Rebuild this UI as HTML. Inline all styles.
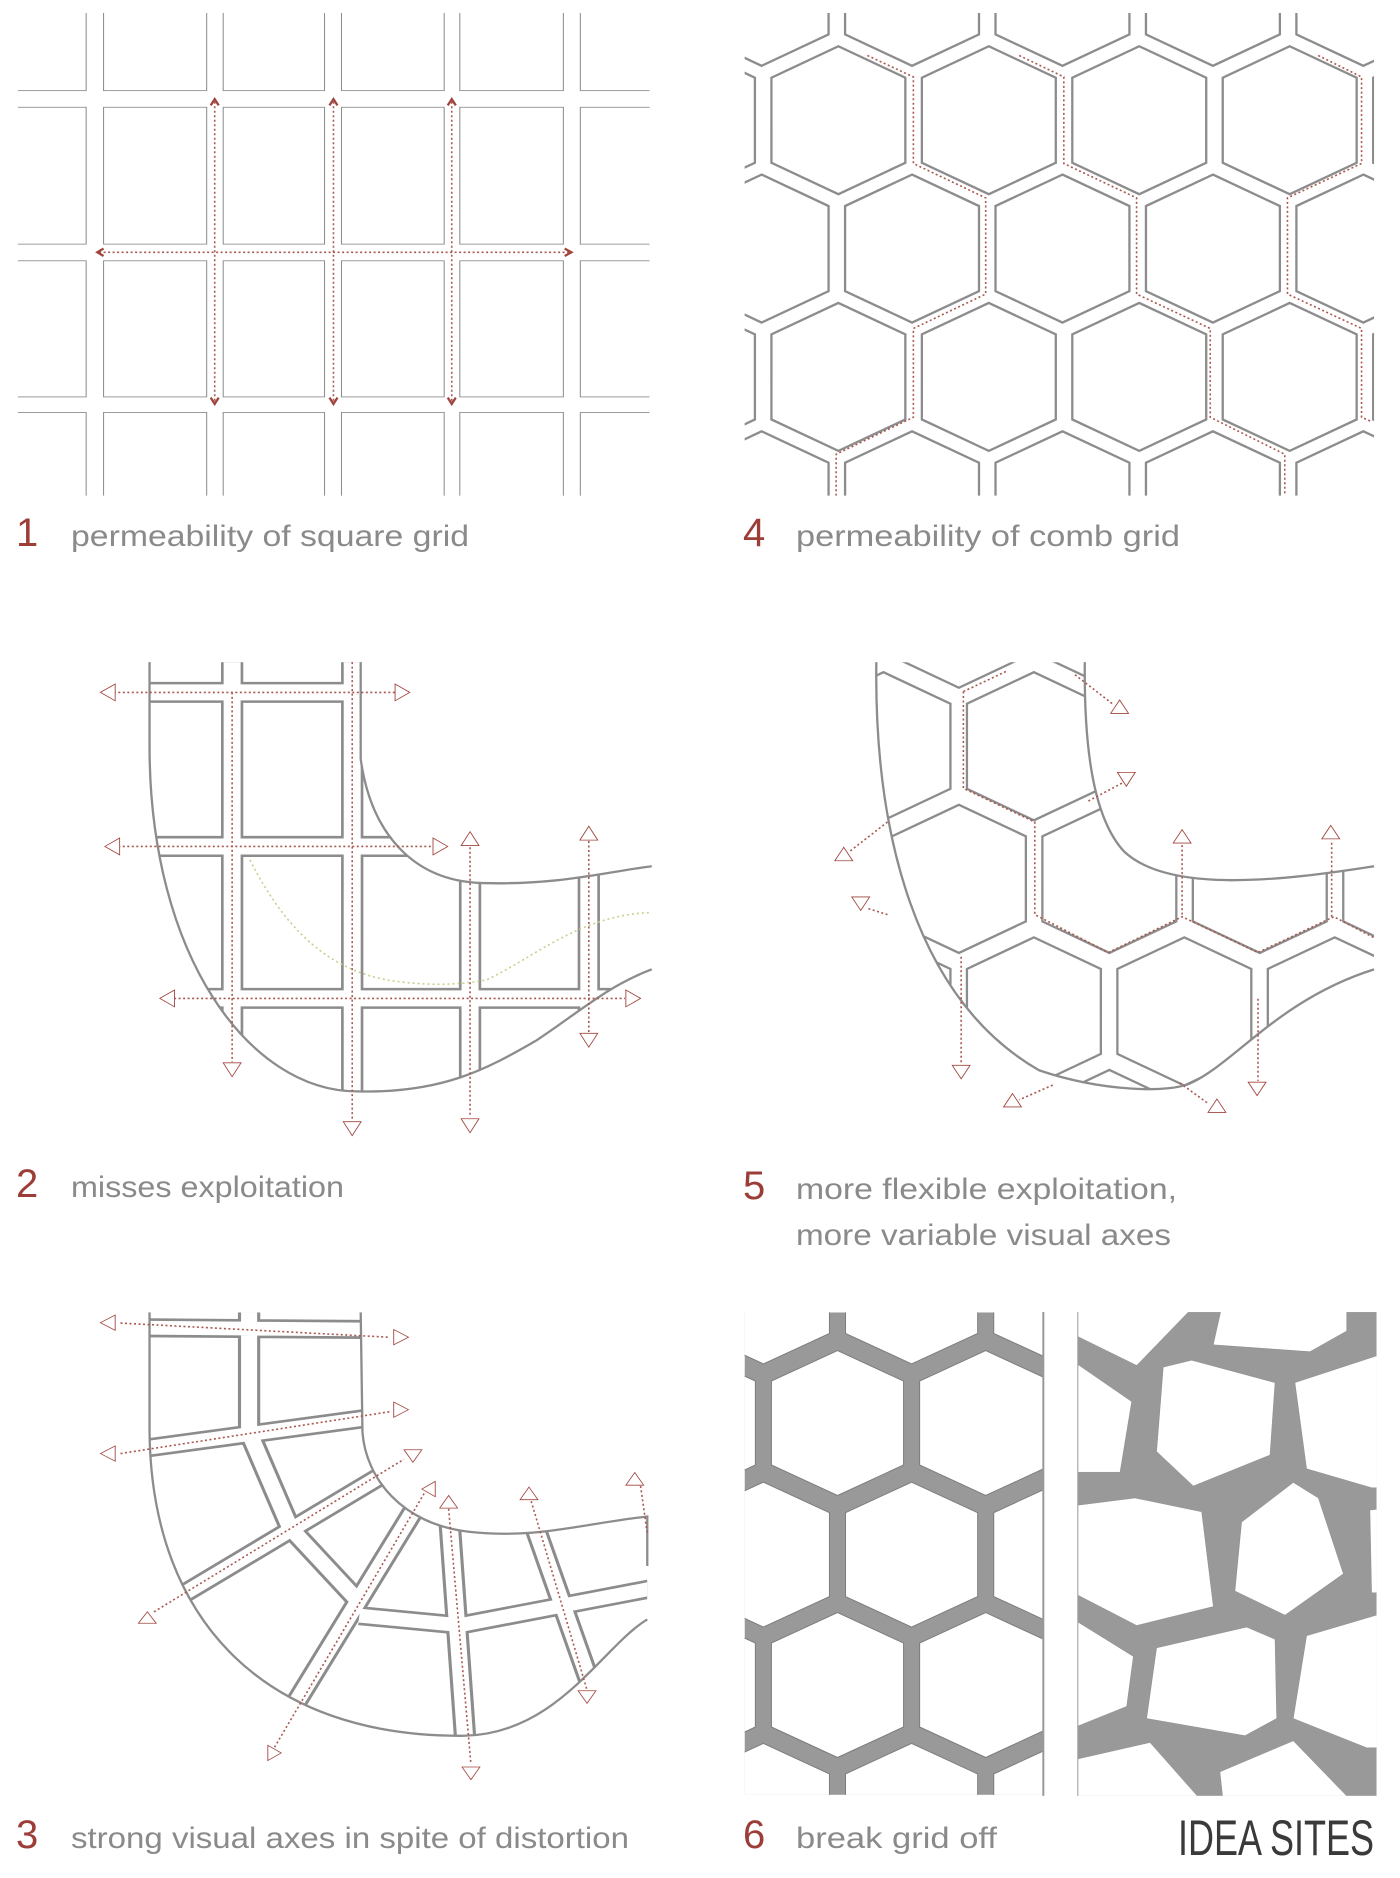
<!DOCTYPE html>
<html><head><meta charset="utf-8"><style>
html,body{margin:0;padding:0;background:#fff;}
svg{display:block;}
.g{fill:none;stroke:#8c8c8c;stroke-width:2.3;vector-effect:non-scaling-stroke;}
.r{fill:none;stroke:#a8584f;stroke-width:1.6;stroke-dasharray:2 2.5;vector-effect:non-scaling-stroke;}
.t{fill:#fff;stroke:#a0453e;stroke-width:2;vector-effect:non-scaling-stroke;}
.gr{fill:none;stroke:#c9cf8c;stroke-width:1.6;stroke-dasharray:2 3;vector-effect:non-scaling-stroke;}
.lab{font-family:"Liberation Sans",sans-serif;font-size:30px;fill:#8a8a8a;}
.num{font-family:"Liberation Sans",sans-serif;font-size:40px;fill:#9c3d38;}
</style></head><body>
<svg width="1400" height="1878" viewBox="0 0 1400 1878" xmlns="http://www.w3.org/2000/svg">
<defs>
<polygon id="hx" points="0,-200 150,-115 150,115 0,200 -150,115 -150,-115" class="g"/>
<polygon id="hx5" points="0,-176 150,-101 150,101 0,176 -150,101 -150,-101" class="g"/>
<polygon id="hx6" points="0,-190 148,-110 148,110 0,190 -148,110 -148,-110" fill="#fff" stroke="#7d7d7d" stroke-width="1" vector-effect="non-scaling-stroke"/>
<clipPath id="c1" clipPathUnits="userSpaceOnUse"><rect x="40" y="35" width="1415" height="1305"/></clipPath>
<clipPath id="c4" clipPathUnits="userSpaceOnUse"><rect x="100" y="35" width="1410" height="1305"/></clipPath>
<clipPath id="c2" clipPathUnits="userSpaceOnUse"><path d="M335,100 L808,100 L808,330 C830,500 920,620 1080,625 C1250,630 1350,600 1460,585 L1460,830 C1360,870 1300,930 1200,1000 C1100,1060 1000,1125 800,1120 C560,1120 335,800 335,300 Z"/></clipPath>
<clipPath id="c5" clipPathUnits="userSpaceOnUse"><path d="M395,100 L862,100 C860,300 880,470 950,550 C1050,650 1300,620 1510,585 L1510,830 C1300,900 1200,1050 1100,1100 C1050,1125 900,1120 760,1070 C480,900 390,500 395,100 Z"/></clipPath>
<clipPath id="c3" clipPathUnits="userSpaceOnUse"><path d="M335,85 L808,85 L812,400 C820,520 900,640 1050,660 C1200,680 1300,640 1450,620 L1450,890 C1350,960 1250,1190 1040,1195 C600,1200 340,900 335,400 Z"/></clipPath>
<clipPath id="c6" clipPathUnits="userSpaceOnUse"><rect x="100" y="85" width="670" height="1265"/></clipPath>
<clipPath id="c7" clipPathUnits="userSpaceOnUse"><rect x="235" y="35" width="895" height="1405"/></clipPath>
</defs>

<!-- Panel 1 -->
<g transform="translate(0,0) scale(0.4464,0.3699)">
<g clip-path="url(#c1)">
<g class="g">
<rect x="-100" y="-100" width="293" height="345"/><rect x="232" y="-100" width="231" height="345"/><rect x="500" y="-100" width="227" height="345"/><rect x="765" y="-100" width="230" height="345"/><rect x="1030" y="-100" width="232" height="345"/><rect x="1300" y="-100" width="400" height="345"/>
<rect x="-100" y="290" width="293" height="370"/><rect x="232" y="290" width="231" height="370"/><rect x="500" y="290" width="227" height="370"/><rect x="765" y="290" width="230" height="370"/><rect x="1030" y="290" width="232" height="370"/><rect x="1300" y="290" width="400" height="370"/>
<rect x="-100" y="705" width="293" height="368"/><rect x="232" y="705" width="231" height="368"/><rect x="500" y="705" width="227" height="368"/><rect x="765" y="705" width="230" height="368"/><rect x="1030" y="705" width="232" height="368"/><rect x="1300" y="705" width="400" height="368"/>
<rect x="-100" y="1115" width="293" height="500"/><rect x="232" y="1115" width="231" height="500"/><rect x="500" y="1115" width="227" height="500"/><rect x="765" y="1115" width="230" height="500"/><rect x="1030" y="1115" width="232" height="500"/><rect x="1300" y="1115" width="400" height="500"/>
</g></g>
<path class="r" d="M481,275 L481,1085 M747,275 L747,1085 M1012,275 L1012,1085 M222,682 L1275,682"/>
<path class="g" style="stroke:#a0453e" d="M472,285 L481,268 L490,285 M738,285 L747,268 L756,285 M1003,285 L1012,268 L1021,285 M472,1075 L481,1092 L490,1075 M738,1075 L747,1092 L756,1075 M1003,1075 L1012,1092 L1021,1075 M232,672 L218,682 L232,692 M1265,672 L1280,682 L1265,692"/>
</g>
<text class="num" x="16" y="546">1</text>
<text class="lab" x="71" y="546" textLength="398" lengthAdjust="spacingAndGlyphs">permeability of square grid</text>

<!-- Panel 4 -->
<g transform="translate(700,0) scale(0.4464,0.3699)">
<g clip-path="url(#c4)">
<use href="#hx" x="138" y="-22"/><use href="#hx" x="475" y="-22"/><use href="#hx" x="812" y="-22"/><use href="#hx" x="1149" y="-22"/><use href="#hx" x="1486" y="-22"/>
<use href="#hx" x="-27" y="325"/><use href="#hx" x="310" y="325"/><use href="#hx" x="647" y="325"/><use href="#hx" x="984" y="325"/><use href="#hx" x="1321" y="325"/><use href="#hx" x="1658" y="325"/>
<use href="#hx" x="138" y="672"/><use href="#hx" x="475" y="672"/><use href="#hx" x="812" y="672"/><use href="#hx" x="1149" y="672"/><use href="#hx" x="1486" y="672"/>
<use href="#hx" x="-27" y="1019"/><use href="#hx" x="310" y="1019"/><use href="#hx" x="647" y="1019"/><use href="#hx" x="984" y="1019"/><use href="#hx" x="1321" y="1019"/><use href="#hx" x="1658" y="1019"/>
<use href="#hx" x="138" y="1366"/><use href="#hx" x="475" y="1366"/><use href="#hx" x="812" y="1366"/><use href="#hx" x="1149" y="1366"/><use href="#hx" x="1486" y="1366"/>
</g>
<path class="r" d="M375,150 L478,208 L478,442 L640,535 L640,795 L478,888 L478,1128 L305,1228 L305,1340"/>
<path class="r" d="M715,150 L815,208 L815,442 L978,535 L978,795 L1143,888 L1143,1128 L1310,1228 L1310,1340"/>
<path class="r" d="M1385,150 L1482,208 L1482,442 L1316,535 L1316,795 L1482,888 L1482,1128 L1505,1140"/>
</g>
<text class="num" x="743" y="546">4</text>
<text class="lab" x="796" y="546" textLength="384" lengthAdjust="spacingAndGlyphs">permeability of comb grid</text>

<!-- Panel 2 -->
<g transform="translate(0,620) scale(0.4464,0.4209)">
<g clip-path="url(#c2)">
<path d="M520,0 V1300 M789,0 V1300 M1053,0 V1300 M1319,0 V1300 M200,172 H1600 M200,538 H1600 M200,899 H1600" stroke="#8c8c8c" stroke-width="50" fill="none"/>
<path d="M520,0 V1300 M789,0 V1300 M1053,0 V1300 M1319,0 V1300 M200,172 H1600 M200,538 H1600 M200,899 H1600" stroke="#fff" stroke-width="38" fill="none"/>
</g>
<path class="g" d="M335,100 L335,300 C335,800 560,1120 800,1120 C1000,1125 1100,1060 1200,1000 C1300,930 1360,870 1460,830"/>
<path class="g" d="M808,100 L808,330 C830,500 920,620 1080,625 C1250,630 1350,600 1460,585"/>
<path class="gr" d="M560,570 C650,760 760,845 900,860 C980,870 1040,865 1090,855 C1200,800 1300,700 1460,695"/>
<path class="r" d="M255,172 H885 M265,538 H970 M390,899 H1400 M520,172 V1050 M789,100 V1190 M1053,540 V1180 M1319,525 V980"/>
<g class="t">
<polygon points="225,172 258,152 258,192"/><polygon points="918,172 885,152 885,192"/>
<polygon points="235,538 268,518 268,558"/><polygon points="1003,538 970,518 970,558"/>
<polygon points="358,899 391,879 391,919"/><polygon points="1435,899 1402,879 1402,919"/>
<polygon points="520,1085 500,1052 540,1052"/><polygon points="789,1225 769,1192 809,1192"/>
<polygon points="1053,1218 1033,1185 1073,1185"/><polygon points="1319,1015 1299,982 1339,982"/>
<polygon points="1053,503 1033,536 1073,536"/><polygon points="1319,490 1299,523 1339,523"/>
</g>
</g>
<text class="num" x="16" y="1197">2</text>
<text class="lab" x="71" y="1197" textLength="273" lengthAdjust="spacingAndGlyphs">misses exploitation</text>

<!-- Panel 5 -->
<g transform="translate(700,620) scale(0.4464,0.4209)">
<g clip-path="url(#c5)">
<use href="#hx5" x="580" y="-15"/><use href="#hx5" x="917" y="-15"/>
<use href="#hx5" x="411" y="300"/><use href="#hx5" x="748" y="300"/><use href="#hx5" x="1085" y="300"/><use href="#hx5" x="1422" y="300"/>
<use href="#hx5" x="243" y="615"/><use href="#hx5" x="580" y="615"/><use href="#hx5" x="917" y="615"/><use href="#hx5" x="1254" y="615"/><use href="#hx5" x="1591" y="615"/>
<use href="#hx5" x="411" y="930"/><use href="#hx5" x="748" y="930"/><use href="#hx5" x="1085" y="930"/><use href="#hx5" x="1422" y="930"/>
<use href="#hx5" x="580" y="1245"/><use href="#hx5" x="917" y="1245"/><use href="#hx5" x="1254" y="1245"/>
</g>
<path class="g" d="M395,100 C390,500 480,900 760,1070 C900,1120 1050,1125 1100,1100 C1200,1050 1300,900 1510,830"/>
<path class="g" d="M862,100 C860,300 880,470 950,550 C1050,650 1300,620 1510,585"/>
<path class="r" d="M590,170 L690,120 M590,170 L590,400 L750,480 L750,700 L915,790 L1080,705 L1250,790 L1420,705 L1510,755"/>
<path class="r" d="M840,130 L925,200 M870,430 L950,385 M420,480 L335,550 M420,700 L375,685 M1080,700 L1080,535 M1415,705 L1415,525 M585,800 L585,1055 M1250,900 L1250,1095 M790,1105 L715,1140 M1075,1100 L1140,1150"/>
<g class="t">
<polygon points="940,190 920,222 960,222"/><polygon points="955,395 935,362 975,362"/>
<polygon points="322,540 302,572 342,572"/><polygon points="360,690 340,658 380,658"/>
<polygon points="1080,498 1060,530 1100,530"/><polygon points="1413,488 1393,520 1433,520"/>
<polygon points="585,1090 565,1058 605,1058"/><polygon points="1248,1130 1228,1098 1268,1098"/>
<polygon points="700,1125 680,1157 720,1157"/><polygon points="1158,1138 1138,1170 1178,1170"/>
</g>
</g>
<text class="num" x="743" y="1199">5</text>
<text class="lab" x="796" y="1199" textLength="381" lengthAdjust="spacingAndGlyphs">more flexible exploitation,</text>
<text class="lab" x="796" y="1245" textLength="375" lengthAdjust="spacingAndGlyphs">more variable visual axes</text>

<!-- Panel 3 -->
<g transform="translate(0,1280) scale(0.4464,0.3814)">
<g clip-path="url(#c3)">
<path d="M300,125 L850,130 M300,445 L850,358 M380,845 L880,495 M620,1190 L950,560 M1005,600 L1045,1250 M1190,620 L1320,1050 M558,60 L558,400 L650,650 L805,845 M805,880 L1030,905 L1500,800" stroke="#8c8c8c" stroke-width="50" fill="none" stroke-linejoin="round"/>
<path d="M300,125 L850,130 M300,445 L850,358 M380,845 L880,495 M620,1190 L950,560 M1005,600 L1045,1250 M1190,620 L1320,1050 M558,60 L558,400 L650,650 L805,845 M805,880 L1030,905 L1500,800" stroke="#fff" stroke-width="36" fill="none" stroke-linejoin="round"/>
</g>
<path class="g" d="M335,85 L335,400 C340,900 600,1200 1040,1195 C1250,1190 1350,960 1450,890"/>
<path class="g" d="M808,85 L812,400 C820,520 900,640 1050,660 C1200,680 1300,640 1450,620 L1450,750"/>
<path class="r" d="M270,113 L870,150 M270,455 L875,345 M345,870 L905,470 M615,1225 L950,560 M1005,600 L1055,1270 M1190,580 L1315,1075 M1435,540 L1450,665"/>
<g class="t">
<polygon points="225,112 258,92 258,132"/><polygon points="915,150 882,130 882,170"/>
<polygon points="225,455 258,435 258,475"/><polygon points="915,340 882,320 882,360"/>
<polygon points="330,870 310,900 350,900"/><polygon points="925,478 905,445 945,445"/>
<polygon points="945,548 975,528 975,568"/><polygon points="1005,565 985,598 1025,598"/>
<polygon points="1185,543 1165,576 1205,576"/><polygon points="1422,505 1402,538 1442,538"/>
<polygon points="1315,1110 1295,1077 1335,1077"/><polygon points="1055,1310 1035,1277 1075,1277"/>
<polygon points="630,1240 600,1220 600,1260"/>
</g>
</g>
<text class="num" x="16" y="1848">3</text>
<text class="lab" x="71" y="1848" textLength="558" lengthAdjust="spacingAndGlyphs">strong visual axes in spite of distortion</text>

<!-- Panel 6 left -->
<g transform="translate(700,1280) scale(0.4464,0.3814)">
<g clip-path="url(#c6)">
<rect x="100" y="85" width="670" height="1265" fill="#999"/>
<use href="#hx6" x="142" y="30"/><use href="#hx6" x="474" y="30"/><use href="#hx6" x="806" y="30"/>
<use href="#hx6" x="-24" y="375"/><use href="#hx6" x="308" y="375"/><use href="#hx6" x="640" y="375"/><use href="#hx6" x="972" y="375"/>
<use href="#hx6" x="142" y="720"/><use href="#hx6" x="474" y="720"/><use href="#hx6" x="806" y="720"/>
<use href="#hx6" x="-24" y="1062"/><use href="#hx6" x="308" y="1062"/><use href="#hx6" x="640" y="1062"/><use href="#hx6" x="972" y="1062"/>
<use href="#hx6" x="142" y="1405"/><use href="#hx6" x="474" y="1405"/><use href="#hx6" x="806" y="1405"/>
</g>
</g>
<!-- Panel 6 right -->
<g transform="translate(1000,1300) scale(0.3333,0.3444)">
<line x1="130" y1="35" x2="130" y2="1440" stroke="#999" stroke-width="2" vector-effect="non-scaling-stroke"/>
<line x1="235" y1="35" x2="235" y2="1440" stroke="#999" stroke-width="2" vector-effect="non-scaling-stroke"/>
<g clip-path="url(#c7)">
<rect x="235" y="35" width="895" height="1405" fill="#999"/>
<g fill="#fff" stroke="#7d7d7d" stroke-width="1" vector-effect="non-scaling-stroke">
<polygon points="200,0 600,0 410,190 200,90"/>
<polygon points="670,0 1040,0 1040,90 930,150 640,130"/>
<polygon points="885,240 1200,140 1200,545 1115,545 920,490"/>
<polygon points="490,195 575,175 825,240 810,450 580,540 470,440"/>
<polygon points="200,165 395,295 360,500 200,500"/>
<polygon points="200,600 405,575 605,615 640,890 410,945 200,840"/>
<polygon points="725,645 880,530 955,575 1030,795 855,915 705,845"/>
<polygon points="1110,610 1200,600 1200,850 1115,850"/>
<polygon points="920,975 1200,895 1200,1300 1100,1300 880,1215"/>
<polygon points="470,1010 740,950 825,985 830,1215 735,1265 440,1215"/>
<polygon points="200,915 400,1035 380,1180 200,1250"/>
<polygon points="200,1340 450,1285 610,1460 200,1460"/>
<polygon points="670,1460 660,1370 880,1280 1060,1460"/>
</g></g>
</g>
<text class="num" x="743" y="1848">6</text>
<text class="lab" x="796" y="1848" textLength="201" lengthAdjust="spacingAndGlyphs">break grid off</text>
<text x="1178" y="1855" textLength="196" lengthAdjust="spacingAndGlyphs" style="font-family:'Liberation Sans Narrow','Liberation Sans',sans-serif;font-size:50px;fill:#3a3a3a;">IDEA SITES</text>
</svg>
</body></html>
